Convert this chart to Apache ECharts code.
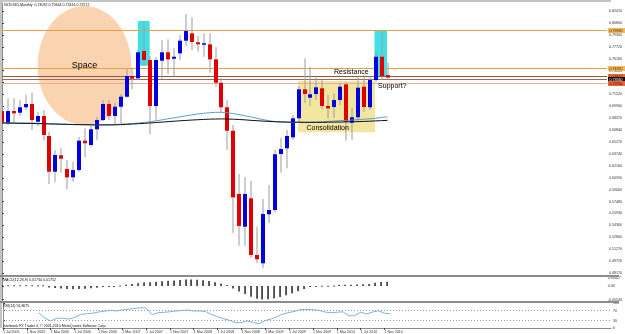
<!DOCTYPE html>
<html>
<head>
<meta charset="utf-8">
<script src="https://cdn.jsdelivr.net/npm/echarts@6.0.0/dist/echarts.min.js"></script>
<style>
html,body{margin:0;padding:0;background:#ffffff;}
#chart{width:625px;height:334px;}
</style>
</head>
<body>
<div id="chart"></div>
<script>
// ---------------- data ----------------
const months = ['Jul 2005','Aug 2005','Sep 2005','Oct 2005','Nov 2005','Dec 2005',
'Jan 2006','Feb 2006','Mar 2006','Apr 2006','May 2006','Jun 2006','Jul 2006','Aug 2006','Sep 2006','Oct 2006','Nov 2006','Dec 2006',
'Jan 2007','Feb 2007','Mar 2007','Apr 2007','May 2007','Jun 2007','Jul 2007','Aug 2007','Sep 2007','Oct 2007','Nov 2007','Dec 2007',
'Jan 2008','Feb 2008','Mar 2008','Apr 2008','May 2008','Jun 2008','Jul 2008','Aug 2008','Sep 2008','Oct 2008','Nov 2008','Dec 2008',
'Jan 2009','Feb 2009','Mar 2009','Apr 2009','May 2009','Jun 2009','Jul 2009','Aug 2009','Sep 2009','Oct 2009','Nov 2009','Dec 2009',
'Jan 2010','Feb 2010','Mar 2010','Apr 2010','May 2010','Jun 2010','Jul 2010','Aug 2010','Sep 2010','Oct 2010','Nov 2010','Dec 2010'];

const opens  = [0.6933,0.6772,0.6933,0.6911,0.6982,0.7025,0.6793,0.6868,0.6606,0.6139,0.6354,0.6175,0.6066,0.6161,0.6545,0.6488,0.6694,0.6815,
0.7025,0.6868,0.6989,0.7120,0.7391,0.7361,0.7718,0.7600,0.6999,0.7591,0.7701,0.7617,
0.7688,0.7853,0.7949,0.7832,0.7800,0.7805,0.7609,0.7303,0.6982,0.6675,0.5848,0.5420,
0.5791,0.5050,0.4941,0.5582,0.5638,0.6371,0.6445,0.6589,0.6838,0.7217,0.7107,0.7155,
0.7230,0.6999,0.6985,0.7077,0.7282,0.6780,0.6851,0.7251,0.6982,0.7339,0.7643,0.7403];
const highs  = [0.7012,0.7099,0.7099,0.7077,0.7143,0.7172,0.6920,0.6946,0.6662,0.6423,0.6449,0.6292,0.6270,0.6593,0.6707,0.6737,0.6855,0.7077,
0.7077,0.7038,0.7155,0.7482,0.7482,0.7731,0.8101,0.7652,0.7639,0.7862,0.7871,0.7753,
0.7927,0.8202,0.8159,0.7918,0.7949,0.7953,0.7770,0.7365,0.7077,0.6750,0.6109,0.6070,
0.6022,0.5420,0.5782,0.5965,0.6423,0.6580,0.6685,0.6881,0.7260,0.7622,0.7512,0.7374,
0.7339,0.7142,0.7165,0.7303,0.7316,0.6972,0.7391,0.7404,0.7391,0.7705,0.7970,0.7566];
const lows   = [0.6662,0.6750,0.6776,0.6868,0.6946,0.6685,0.6737,0.6545,0.5978,0.6001,0.6126,0.5909,0.6008,0.6139,0.6328,0.6466,0.6554,0.6802,
0.6815,0.6750,0.6763,0.7103,0.7217,0.7339,0.7526,0.6628,0.6802,0.7352,0.7417,0.7382,
0.7600,0.7783,0.7731,0.7709,0.7643,0.7434,0.7247,0.6920,0.6423,0.5337,0.5171,0.5171,
0.5011,0.4945,0.4876,0.5468,0.5612,0.6126,0.6184,0.6554,0.6789,0.7038,0.6999,0.7077,
0.6959,0.6838,0.6842,0.7012,0.6545,0.6554,0.6802,0.6924,0.6946,0.7312,0.7339,0.7342];
const closes = [0.6772,0.6933,0.6903,0.6982,0.7025,0.6815,0.6868,0.6619,0.6139,0.6358,0.6309,0.6066,0.6161,0.6545,0.6511,0.6694,0.6815,0.7025,
0.6868,0.6989,0.7120,0.7391,0.7356,0.7701,0.7600,0.6999,0.7600,0.7701,0.7609,0.7643,
0.7853,0.7979,0.7836,0.7805,0.7819,0.7609,0.7303,0.6982,0.6675,0.5804,0.5429,0.5848,
0.5050,0.4994,0.5586,0.5638,0.6367,0.6436,0.6606,0.6838,0.7217,0.7155,0.7152,0.7243,
0.6999,0.6968,0.7077,0.7251,0.6793,0.6851,0.7238,0.6985,0.7339,0.7643,0.7391,0.7371];

const maFast = [0.6780,0.6779,0.6777,0.6776,0.6776,0.6775,0.6772,0.6770,0.6766,0.6763,
0.6762,0.6759,0.6756,0.6755,0.6754,0.6752,0.6752,0.6754,0.6755,0.6756,
0.6759,0.6763,0.6770,0.6776,0.6784,0.6793,0.6805,0.6818,0.6831,0.6844,
0.6857,0.6870,0.6882,0.6894,0.6903,0.6911,0.6916,0.6916,0.6910,0.6899,
0.6886,0.6870,0.6855,0.6838,0.6821,0.6806,0.6796,0.6789,0.6785,0.6784,
0.6784,0.6785,0.6787,0.6789,0.6793,0.6797,0.6802,0.6807,0.6811,0.6815,
0.6821,0.6826,0.6831,0.6839,0.6848,0.6857];
const maSlow = [0.6776,0.6775,0.6774,0.6772,0.6771,0.6770,0.6768,0.6767,0.6764,0.6763,
0.6760,0.6759,0.6756,0.6755,0.6754,0.6752,0.6751,0.6751,0.6751,0.6752,
0.6755,0.6759,0.6763,0.6767,0.6772,0.6777,0.6783,0.6788,0.6794,0.6800,
0.6805,0.6810,0.6815,0.6819,0.6823,0.6827,0.6828,0.6830,0.6828,0.6826,
0.6822,0.6817,0.6811,0.6806,0.6801,0.6797,0.6793,0.6791,0.6789,0.6788,
0.6787,0.6785,0.6785,0.6785,0.6785,0.6787,0.6788,0.6789,0.6791,0.6792,
0.6794,0.6797,0.6800,0.6804,0.6807,0.6811];

const macdValues = [0.003,0.003,0.003,0.003,0.003,0.003,0.003,0.003,
-0.006,-0.008,-0.010,-0.012,-0.013,-0.012,-0.011,-0.009,-0.007,-0.004,-0.003,-0.001,
0.002,0.005,0.008,0.011,0.014,0.015,0.017,0.019,0.021,0.022,
0.024,0.026,0.026,0.025,0.023,0.020,0.015,0.010,0.004,-0.010,
-0.022,-0.033,-0.044,-0.052,-0.055,-0.054,-0.050,-0.045,-0.038,-0.030,
-0.021,-0.012,-0.004,-0.001,0.001,0.001,0.002,0.005,0.005,0.005,
0.006,0.007,0.008,0.013,0.016,0.017];

const rsiValues = [null,null,null,null,null,null,61,40,28,39,
39,36,42,54,57,59,64,67,71,68,
72,75,78,81,80,53,61,63,65,68,
70,72,68,68,66,54,45,37,31,21,
22,28,22,17,30,36,46,56,62,67,
74,74,73,71,64,61,63,65,49,49,
63,56,64,69,59,57];

const priceTicks = [0.82410,0.80860,0.79300,0.77720,0.76160,0.74600,0.73050,0.71520,0.69960,0.68370,0.66840,0.65270,
0.63740,0.62160,0.60590,0.59060,0.57480,0.55930,0.54360,0.52800,0.51270,0.49720,0.48170];
const macdTicks = [0.03017, 0, -0.05540];
const macdTickLabels = ['0.03017','0.00','-0.05540'];
const rsiTicks = [100, 70, 30, 0];
const xTickLabels = ['1 Jul 2005','1 Nov 2005','1 Mar 2006','1 Jul 2006','1 Nov 2006','1 Mar 2007','1 Jul 2007','1 Nov 2007',
'1 Mar 2008','1 Jul 2008','1 Nov 2008','1 Mar 2009','1 Jul 2009','1 Nov 2009','1 Mar 2010','1 Jul 2010','1 Nov 2010'];

const levelPrices = [0.7993, 0.7492, 0.7387, 0.7356, 0.7295];

// ---------------- styling / layout ----------------
const FONT = 'Liberation Sans, Arial, sans-serif';
const SMALL = 3.6;
const levelStyles = [
  {line:'#e6a040', bg:'#f5b85a', fg:'#3a2a10'},
  {line:'#e6a040', bg:'#f5b85a', fg:'#3a2a10'},
  {line:'#a0522d', bg:'#ee6a3a', fg:'#3a1a10'},
  {line:'#8a7068', bg:'#101010', fg:'#ffffff'},
  {line:'#f0a898', bg:'#f0603a', fg:'#3a1a10'}
];

const slotMax = 102;
const candleData = months.map((m, i) => [i, opens[i], highs[i], lows[i], closes[i]]);

function renderCandle(params, api) {
  const i = api.value(0);
  const o = api.value(1), h = api.value(2), l = api.value(3), c = api.value(4);
  const ph = api.coord([i, h]), pl = api.coord([i, l]);
  const po = api.coord([i, o]), pc = api.coord([i, c]);
  const cx = Math.round(ph[0]);
  const yTop = Math.min(po[1], pc[1]);
  let hgt = Math.abs(po[1] - pc[1]);
  if (hgt < 1.5) hgt = 1.5;
  const up = c >= o;
  return {type:'group', children:[
    {type:'line', shape:{x1:cx, y1:ph[1], x2:cx, y2:pl[1]}, style:{stroke:'#9c9c9c', lineWidth:1}},
    {type:'rect', shape:{x:cx-2, y:yTop, width:4, height:hgt}, style:{fill: up ? '#0000e0' : '#e00000'}}
  ]};
}

function renderMacd(params, api) {
  const i = api.value(0), v = api.value(1);
  const p0 = api.coord([i, 0]), p1 = api.coord([i, v]);
  const cx = Math.round(p0[0]);
  return {type:'rect', shape:{x:cx-0.6, y:Math.min(p0[1], p1[1]), width:1.3, height:Math.max(1, Math.abs(p1[1]-p0[1]))}, style:{fill:'#000000'}};
}

function renderLevel(params, api) {
  const p = api.value(1), k = api.value(2);
  const cs = params.coordSys;
  const y = Math.round(api.coord([0, p])[1]) + 0.5;
  const st = levelStyles[k];
  const lx = cs.x + cs.width + 1;
  return {type:'group', children:[
    {type:'line', shape:{x1:cs.x, y1:y, x2:cs.x+cs.width, y2:y}, style:{stroke:st.line, lineWidth:1}},
    {type:'rect', shape:{x:lx, y:y-2.5, width:20, height:5}, style:{fill:st.bg}},
    {type:'text', x:lx+1.5, y:y, style:{text:p.toFixed(5), fill:st.fg, font:SMALL+'px '+FONT, verticalAlign:'middle', align:'left'}}
  ]};
}

function renderShapes(params, api) {
  const eL = api.coord([6.0, 0.8306]), eR = api.coord([21.8, 0.6750]);
  const cx = (eL[0]+eR[0])/2, cy = (eL[1]+eR[1])/2, rx = (eR[0]-eL[0])/2, ry = (eR[1]-eL[1])/2;
  const pts = [];
  for (let a = 0; a < 72; a++) { const t = a/72*Math.PI*2; pts.push([cx + rx*Math.cos(t), cy + ry*Math.sin(t)]); }
  function rectBetween(i0, p0, i1, p1, fill) {
    const a = api.coord([i0, p0]), b = api.coord([i1, p1]);
    return {type:'rect', shape:{x:Math.min(a[0],b[0]), y:Math.min(a[1],b[1]), width:Math.abs(b[0]-a[0]), height:Math.abs(b[1]-a[1])}, style:{fill:fill}};
  }
  return {type:'group', children:[
    {type:'polygon', shape:{points:pts}, style:{fill:'#fad4b0'}},
    rectBetween(22.9, 0.8110, 24.9, 0.7526, '#40e0e6'),
    rectBetween(62.8, 0.7983, 64.9, 0.7374, '#40e0e6'),
    rectBetween(49.9, 0.7325, 62.9, 0.6655, '#f2e6a0')
  ]};
}

function renderTexts(params, api) {
  function txt(i, p, s, size) {
    const c = api.coord([i, p]);
    return {type:'text', x:c[0], y:c[1], style:{text:s, fill:'#000', font:size+'px '+FONT, align:'center', verticalAlign:'middle'}};
  }
  return {type:'group', children:[
    txt(13.9, 0.7528, 'Space', 9),
    txt(54.9, 0.6715, 'Consolidation', 7),
    txt(58.9, 0.7439, 'Resistance', 7),
    txt(65.8, 0.7262, 'Support?', 7)
  ]};
}

const xAxisCommon = {type:'value', min:0, max:slotMax, splitLine:{show:false}, axisLine:{show:false}, axisTick:{show:false}, axisLabel:{show:false}};
const xTickIdx = xTickLabels.map((s, k) => k*4);

const option = {
  animation: false,
  backgroundColor: '#ffffff',
  textStyle: {fontFamily: FONT},
  grid: [
    {left:2, right:14, top:3, height:272},
    {left:2, right:14, top:277, height:24},
    {left:2, right:14, top:303, height:25}
  ],
  xAxis: [
    Object.assign({gridIndex:0}, xAxisCommon),
    Object.assign({gridIndex:1}, xAxisCommon),
    {gridIndex:2, type:'value', min:0, max:slotMax, splitLine:{show:false},
     axisLine:{show:true, onZero:false, lineStyle:{color:'#8a8a8a'}},
     axisTick:{show:true, length:2, customValues:xTickIdx, lineStyle:{color:'#444'}},
     axisLabel:{show:true, customValues:xTickIdx, formatter:(v)=>xTickLabels[Math.round(v/4)] || '', fontSize:SMALL, color:'#333', align:'left', margin:2}}
  ],
  yAxis: [
    {gridIndex:0, type:'value', position:'right', min:0.4788, max:0.8346, splitLine:{show:false},
     axisLine:{show:true, lineStyle:{color:'#8a8a8a'}},
     axisTick:{show:true, length:2, customValues:priceTicks, lineStyle:{color:'#444'}},
     axisLabel:{customValues:priceTicks, formatter:(v)=>v.toFixed(5), fontSize:SMALL, color:'#333', margin:2}},
    {gridIndex:1, type:'value', position:'right', min:-0.0608, max:0.036, splitLine:{show:false},
     axisLine:{show:true, lineStyle:{color:'#8a8a8a'}},
     axisTick:{show:true, length:2, customValues:macdTicks, lineStyle:{color:'#444'}},
     axisLabel:{customValues:macdTicks, formatter:(v)=>macdTickLabels[macdTicks.indexOf(v)] || '', fontSize:SMALL, color:'#333', margin:2}},
    {gridIndex:2, type:'value', position:'right', min:0, max:100, splitLine:{show:false},
     axisLine:{show:true, lineStyle:{color:'#8a8a8a'}},
     axisTick:{show:true, length:2, customValues:rsiTicks, lineStyle:{color:'#444'}},
     axisLabel:{customValues:rsiTicks, formatter:(v)=>String(v), fontSize:SMALL, color:'#333', margin:2}}
  ],
  series: [
    {type:'custom', name:'shapes', xAxisIndex:0, yAxisIndex:0, z:1, silent:true, clip:true,
     data:[[0, 0.7]], encode:{x:0, y:1}, renderItem:renderShapes},
    {type:'custom', name:'levels', xAxisIndex:0, yAxisIndex:0, z:2, silent:true,
     data:levelPrices.map((p, k)=>[0, p, k]), encode:{x:0, y:1}, renderItem:renderLevel},
    {type:'custom', name:'NZDUSD', xAxisIndex:0, yAxisIndex:0, z:3, clip:true,
     data:candleData, encode:{x:0, y:[1,2,3,4]}, renderItem:renderCandle},
    {type:'line', name:'MA fast', xAxisIndex:0, yAxisIndex:0, z:4, showSymbol:false, silent:true,
     data:maFast.map((v,i)=>[i,v]), lineStyle:{color:'#5a9fd0', width:1}},
    {type:'line', name:'MA slow', xAxisIndex:0, yAxisIndex:0, z:4, showSymbol:false, silent:true,
     data:maSlow.map((v,i)=>[i,v]), lineStyle:{color:'#111111', width:1}},
    {type:'custom', name:'texts', xAxisIndex:0, yAxisIndex:0, z:6, silent:true,
     data:[[0, 0.7]], encode:{x:0, y:1}, renderItem:renderTexts},
    {type:'custom', name:'MACD', xAxisIndex:1, yAxisIndex:1, z:3,
     data:macdValues.map((v,i)=>[i,v]), encode:{x:0, y:1}, renderItem:renderMacd},
    {type:'line', name:'RSI', xAxisIndex:2, yAxisIndex:2, z:3, showSymbol:false, silent:true,
     data:rsiValues.map((v,i)=>[i,v]), lineStyle:{color:'#7fb3da', width:1},
     markLine:{silent:true, symbol:'none', label:{show:false},
       lineStyle:{color:'#9a9a9a', type:[1,2], width:1},
       data:[{yAxis:70},{yAxis:30}]}}
  ],
  graphic: [
    {type:'rect', left:0, top:0, shape:{width:2, height:328}, style:{fill:'#c4c4c4'}, z:10},
    {type:'rect', left:0, top:0, shape:{width:611, height:2}, style:{fill:'#c4c4c4'}, z:10},
    {type:'rect', left:0, top:275, shape:{width:619, height:2}, style:{fill:'#8c8c8c'}, z:10},
    {type:'rect', left:0, top:301, shape:{width:619, height:2}, style:{fill:'#8c8c8c'}, z:10},
    {type:'text', left:4, top:2.5, style:{text:'NZDUSD,Monthly  0.74032 0.75664 0.73416 0.73712', font:SMALL+'px '+FONT, fill:'#111'}, z:10},
    {type:'text', left:3, top:278, style:{text:'MACD(12,26,9) 0.01734 0.01752', font:SMALL+'px '+FONT, fill:'#111'}, z:10},
    {type:'text', left:3, top:304, style:{text:'RSI(14) 56.8675', font:SMALL+'px '+FONT, fill:'#111'}, z:10},
    {type:'text', left:3, top:324, style:{text:'Interbank FX Trader 4, \u00a9 2001-2010 MetaQuotes Software Corp.', font:SMALL+'px '+FONT, fill:'#111'}, z:10}
  ]
};

const chart = echarts.init(document.getElementById('chart'), null, {renderer:'canvas', devicePixelRatio:1});
chart.setOption(option);
</script>
</body>
</html>
